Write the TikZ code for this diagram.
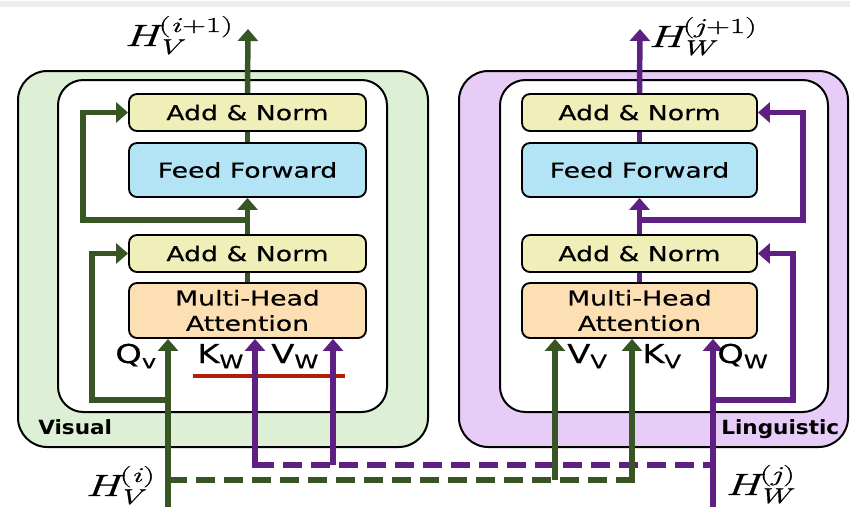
\documentclass[tikz,border=0pt]{standalone}
\usepackage{fontspec}
\setmainfont{DejaVu Sans}
\newfontfamily\boxfont[FakeStretch=1.3,FakeBold=0.4]{DejaVu Sans}
\newfontfamily\tagfont[FakeStretch=1.1]{DejaVu Sans Bold}
\newfontfamily\hfont[FakeStretch=1.55,FakeBold=0.8]{Latin Modern Roman}
\usetikzlibrary{arrows.meta,fit}

\definecolor{vgreen}{HTML}{375623}
\definecolor{wpurple}{HTML}{5E2183}
\definecolor{vfill}{HTML}{DDEFD5}
\definecolor{wfill}{HTML}{E6CCF6}
\definecolor{normfill}{HTML}{F0EEB9}
\definecolor{fffill}{HTML}{B3E4F6}
\definecolor{mhfill}{HTML}{FDDFB4}
\definecolor{cutred}{HTML}{B01E0A}
\definecolor{stripgray}{HTML}{EEEEEE}

% hidden state H with a subscript stream letter and a superscript layer index
\newcommand\hstate[2]{%
  {\hfont\itshape\fontsize{23}{23}\selectfont H}%
  \rlap{\raisebox{10.5pt}{\hfont\fontsize{16}{16}\selectfont #2}}%
  \kern-1.5pt\raisebox{-6pt}{\hfont\itshape\fontsize{16}{16}\selectfont #1}}
\newcommand\qkv[2]{{\boxfont\fontsize{19.5}{19.5}\selectfont #1\raisebox{-4pt}{\fontsize{14}{14}\selectfont #2}}}
\newcommand\boxtext{\boxfont\fontsize{15.4}{19}\selectfont}

\tikzset{
  outerbox/.style={draw=black, line width=1.5pt, rounded corners=22pt, inner sep=0pt},
  innerbox/.style={draw=black, fill=white, line width=1.5pt, rounded corners=19pt, inner sep=0pt},
  block/.style={draw=black, line width=1.4pt, rounded corners=6pt, inner sep=0pt},
  boxlabel/.style={font=\boxtext, align=center, inner sep=0pt},
  gline/.style={draw=vgreen, line width=4.1pt},
  pline/.style={draw=wpurple, line width=4.1pt},
  tip/.style={-{Triangle[width=15pt,length=9pt]}},
  dashline/.style={dash pattern=on 14pt off 7pt},
  tag/.style={font=\tagfont\fontsize{14.7}{14.7}\selectfont, anchor=base west, inner sep=0pt},
  qlabel/.style={anchor=base west, inner sep=0pt},
  hlabel/.style={anchor=base west, inner sep=0pt},
}

\begin{document}
\begin{tikzpicture}[x=0.75pt,y=-0.75pt]
  \useasboundingbox (0,0) rectangle (850,507);
  \fill[stripgray] (0,1) rectangle (850,7);

  % ---------- Visual stream ----------
  \node[outerbox, fill=vfill, fit={(18,71) (428,447)}] (vout) {};
  \node[innerbox, fit={(58,80) (387,412)}] (vin) {};
  \node[block, fill=normfill, fit={(129,94) (366,131)}] (van1) {};
  \node[boxlabel] at (van1) {Add \& Norm};
  \node[block, fill=fffill, fit={(129,143) (366,197)}] (vff) {};
  \node[boxlabel] at (vff) {Feed Forward};
  \node[block, fill=normfill, fit={(129,235) (366,272)}] (van2) {};
  \node[boxlabel] at (van2) {Add \& Norm};
  \node[block, fill=mhfill, fit={(129,283) (366,338)}] (vmh) {};
  \node[boxlabel] at (vmh) {Multi-Head\\Attention};
  \node[tag] (vtag) at (38,434) {Visual};

  % ---------- Linguistic stream ----------
  \node[outerbox, fill=wfill, fit={(459,71) (848,447)}] (wout) {};
  \node[innerbox, fit={(500,80) (828,412)}] (win) {};
  \node[block, fill=normfill, fit={(522,94) (757,131)}] (wan1) {};
  \node[boxlabel] at (wan1) {Add \& Norm};
  \node[block, fill=fffill, fit={(522,143) (757,197)}] (wff) {};
  \node[boxlabel] at (wff) {Feed Forward};
  \node[block, fill=normfill, fit={(522,235) (757,272)}] (wan2) {};
  \node[boxlabel] at (wan2) {Add \& Norm};
  \node[block, fill=mhfill, fit={(522,283) (757,338)}] (wmh) {};
  \node[boxlabel] at (wmh) {Multi-Head\\Attention};
  \node[tag] (wtag) at (721,434) {Linguistic};

  % ---------- junction and corner points ----------
  \coordinate (vtop) at (248,29);
  \coordinate (vmid) at (248,220);
  \coordinate (vc1) at (83,220);
  \coordinate (vqin) at (168,507);
  \coordinate (vqsplit) at (168,400);
  \coordinate (vc2) at (92,400);
  \coordinate (vqdash) at (168,480);
  \coordinate (vvstart) at (555,480);
  \coordinate (vkstart) at (632,480);

  \coordinate (wtop) at (640,29);
  \coordinate (wmid) at (640,220);
  \coordinate (wc1) at (803,220);
  \coordinate (wqin) at (713,507);
  \coordinate (wqsplit) at (713,400);
  \coordinate (wc2) at (793,400);
  \coordinate (wqdash) at (713,465);
  \coordinate (wkstart) at (255,465);
  \coordinate (wvstart) at (333,465);

  \coordinate (cutl) at (193,376);
  \coordinate (cutr) at (345,376);

  % ---------- stream cut marker ----------
  \draw[cutred, line width=3.4pt] (cutl) -- (cutr);

  % ---------- Visual connectors ----------
  \draw[gline, tip] (van1.north) -- (vtop);
  \draw[gline] (vff.north) -- (van1.south);
  \draw[gline, tip] (van2.north) -- (vff.south);
  \draw[gline, tip] (vmid) -- (vc1) |- (van1.west);
  \draw[gline] (vmh.north) -- (van2.south);
  \draw[gline, tip] (vqsplit) -- (vc2) |- (van2.west);
  \draw[gline, tip] (vqin) -- (vqin |- vmh.south);

  % ---------- Linguistic connectors ----------
  \draw[pline, tip] (wan1.north) -- (wtop);
  \draw[pline] (wff.north) -- (wan1.south);
  \draw[pline, tip] (wan2.north) -- (wff.south);
  \draw[pline, tip] (wmid) -- (wc1) |- (wan1.east);
  \draw[pline] (wmh.north) -- (wan2.south);
  \draw[pline, tip] (wqsplit) -- (wc2) |- (wan2.east);
  \draw[pline, tip] (wqin) -- (wqin |- wmh.south);

  % ---------- cross-stream keys and values ----------
  \draw[pline, dashline] (wkstart) -- (wqdash);
  \draw[pline, tip] ([xshift=9pt]wkstart) -- (wkstart) -- (wkstart |- vmh.south);
  \draw[pline, tip] (wvstart) -- (wvstart |- vmh.south);

  \draw[gline, dashline] (vqdash) -- (vkstart);
  \draw[gline, tip] (vvstart) -- (vvstart |- wmh.south);
  \draw[gline, tip] ([xshift=-9pt]vkstart) -- (vkstart) -- (vkstart |- wmh.south);

  % ---------- input labels ----------
  \node[qlabel] (lqv) at (115,363) {\qkv{Q}{v}};
  \node[qlabel] (lkw) at (197,363) {\qkv{K}{W}};
  \node[qlabel] (lvw) at (271,363) {\qkv{V}{W}};
  \node[qlabel] (lvv) at (567,363) {\qkv{V}{V}};
  \node[qlabel] (lkv) at (642,363) {\qkv{K}{V}};
  \node[qlabel] (lqw) at (717,363) {\qkv{Q}{W}};

  % ---------- hidden state labels ----------
  \node[hlabel] (hvo) at (124,46) {\hstate{V}{(\textit{i}+1)}};
  \node[hlabel] (hwo) at (648,47) {\hstate{W}{(\textit{j}+1)}};
  \node[hlabel] (hvi) at (85,496) {\hstate{V}{(\textit{i})}};
  \node[hlabel] (hwi) at (725,495) {\hstate{W}{(\textit{j})}};
\end{tikzpicture}
\end{document}
